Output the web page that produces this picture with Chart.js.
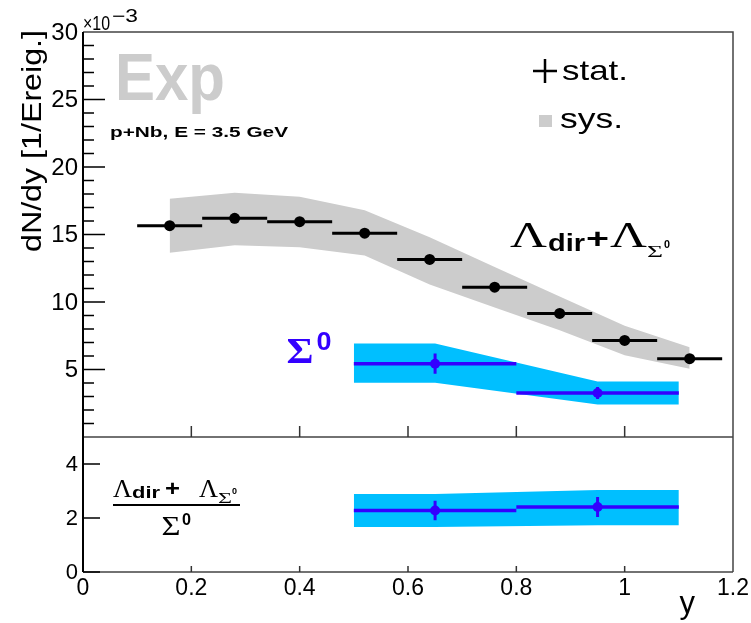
<!DOCTYPE html>
<html>
<head>
<meta charset="utf-8">
<script src="https://cdn.jsdelivr.net/npm/chart.js@4.4.1/dist/chart.umd.min.js"></script>
<style>
  html, body { margin: 0; padding: 0; background: #fff; }
  #wrap { position: relative; width: 751px; height: 623px; }
</style>
</head>
<body>
<div id="wrap"><canvas id="yield" width="751" height="623"></canvas></div>
<script>
// rapidity bins of the Lambda spectrum
const lambdaBinLow  = [0.10, 0.22, 0.34, 0.46, 0.58, 0.70, 0.82, 0.94, 1.06];
const lambdaBinHigh = [0.22, 0.34, 0.46, 0.58, 0.70, 0.82, 0.94, 1.06, 1.18];
const lambdaY       = [0.16, 0.28, 0.40, 0.52, 0.64, 0.76, 0.88, 1.00, 1.12];
// dN/dy in units of 1e-3
const lambdaVals    = [15.65, 16.2, 15.95, 15.1, 13.15, 11.1, 9.15, 7.15, 5.8];
const lambdaSysUp   = [17.65, 18.1, 17.8, 16.8, 14.8, 12.6, 10.4, 8.25, 6.65];
const lambdaSysLow  = [13.65, 14.2, 14.05, 13.45, 11.3, 9.6, 7.9, 6.05, 5.05];

// Sigma0 spectrum
const sigmaBinLow  = [0.5, 0.8];
const sigmaBinHigh = [0.8, 1.1];
const sigmaY       = [0.65, 0.95];
const sigmaVals    = [5.43, 3.26];
const sigmaStat    = [0.75, 0.45];
const sigmaSysX    = [0.5, 0.65, 0.95, 1.1];
const sigmaSysUp   = [6.92, 6.92, 4.12, 4.12];
const sigmaSysLow  = [4.02, 4.02, 2.4, 2.4];

// ratio (Lambda_dir + Lambda_Sigma0) / Sigma0
const ratioVals   = [2.28, 2.41];
const ratioStat   = [0.36, 0.37];
const ratioSysUp  = [2.89, 2.89, 3.04, 3.04];
const ratioSysLow = [1.67, 1.67, 1.73, 1.73];

// axes
const xTicks       = [0, 0.2, 0.4, 0.6, 0.8, 1, 1.2];
const xTickLabels  = ["0", "0.2", "0.4", "0.6", "0.8", "1", "1.2"];
const yTopTicks    = [5, 10, 15, 20, 25, 30];
const yBottomTicks = [0, 2, 4];

const SANS = '"Liberation Sans", Arial, sans-serif';
const SERIF = '"Liberation Serif", "Times New Roman", serif';
const GREY = "#cccccc";
const SKY = "#00bfff";
const VIOLET = "#3300ff";

const pts = (xs, ys) => xs.map((x, i) => ({ x: x, y: ys[i] }));
// horizontal bin-width bars, broken by null points
const hBars = (lo, hi, v) => lo.flatMap((l, i) => [{ x: l, y: v[i] }, { x: hi[i], y: v[i] }, { x: hi[i], y: null }]);
// vertical stat. error bars
const vBars = (xs, v, e) => xs.flatMap((x, i) => [{ x: x, y: v[i] - e[i] }, { x: x, y: v[i] + e[i] }, { x: x, y: null }]);

const band = (data, axis, fill, color) => ({
    data: data, yAxisID: axis, borderWidth: 0, pointRadius: 0, tension: 0,
    fill: fill, backgroundColor: color, order: 10
});
const bars = (data, axis, color, width) => ({
    data: data, yAxisID: axis, borderColor: color, borderWidth: width, pointRadius: 0,
    spanGaps: false, fill: false, borderCapStyle: "butt", order: 5
});
const marks = (data, axis, color, r) => ({
    data: data, yAxisID: axis, showLine: false, pointRadius: r, pointBorderWidth: 0,
    pointBackgroundColor: color, fill: false, order: 1
});

// text stretched to a given width
function fitText(ctx, t, x, y, font, w, align) {
    ctx.save();
    ctx.font = font;
    const nat = ctx.measureText(t).width;
    ctx.textAlign = "left";
    const x0 = align === "right" ? x - w : align === "center" ? x - w / 2 : x;
    ctx.translate(x0, y);
    ctx.scale(w / nat, 1);
    ctx.fillText(t, 0, 0);
    ctx.restore();
}

// pieces of a formula: [text, font, x0, x1, baseline]
function formula(ctx, list, color) {
    ctx.fillStyle = color || "#000";
    list.forEach(([t, font, x0, x1, base]) => fitText(ctx, t, x0, base, font, x1 - x0, "left"));
}

const rootFrame = {
    id: "rootFrame",
    afterDraw(chart) {
        const ctx = chart.ctx;
        const { x, y, yr } = chart.scales;
        const L = chart.chartArea.left, R = chart.chartArea.right;
        const T = y.top, M = y.bottom, B = yr.bottom;
        ctx.save();

        // frame
        ctx.strokeStyle = "#444";
        ctx.lineWidth = 1.5;
        ctx.beginPath();
        ctx.moveTo(L, T); ctx.lineTo(R, T); ctx.lineTo(R, B);
        ctx.moveTo(L, M); ctx.lineTo(R, M);
        ctx.moveTo(L, B); ctx.lineTo(R, B);
        ctx.stroke();
        ctx.strokeStyle = "#000";
        ctx.lineWidth = 2;
        ctx.beginPath();
        ctx.moveTo(L, T); ctx.lineTo(L, B);
        ctx.stroke();

        // y ticks, upper pad
        ctx.lineWidth = 1.5;
        ctx.beginPath();
        for (let v = 1; v < 30; v++) {
            const py = y.getPixelForValue(v);
            ctx.moveTo(L, py);
            ctx.lineTo(L + (v % 5 === 0 ? 22 : 11), py);
        }
        ctx.stroke();
        // y ticks, lower pad
        ctx.beginPath();
        yBottomTicks.forEach(v => {
            const py = yr.getPixelForValue(v);
            ctx.moveTo(L, py); ctx.lineTo(L + 17, py);
        });
        ctx.stroke();
        // x ticks on both pads
        ctx.strokeStyle = "#333";
        ctx.beginPath();
        xTicks.slice(1, -1).forEach(v => {
            const px = x.getPixelForValue(v);
            ctx.moveTo(px, M); ctx.lineTo(px, M - 11);
            ctx.moveTo(px, B); ctx.lineTo(px, B - 6);
        });
        ctx.stroke();

        // tick labels
        ctx.fillStyle = "#000";
        ctx.font = "24px " + SANS;
        ctx.textAlign = "right";
        ctx.textBaseline = "middle";
        yTopTicks.forEach(v => ctx.fillText(String(v), L - 5, y.getPixelForValue(v) + 1));
        ctx.font = "22px " + SANS;
        yBottomTicks.forEach(v => ctx.fillText(String(v), L - 5, yr.getPixelForValue(v) + 1));
        ctx.font = "23px " + SANS;
        ctx.textAlign = "center";
        ctx.textBaseline = "alphabetic";
        xTicks.forEach((v, i) => ctx.fillText(xTickLabels[i], x.getPixelForValue(v), 595));

        // exponent
        ctx.textAlign = "left";
        formula(ctx, [
            ["\u00d710", "20px " + SANS, 83, 110, 30],
            ["\u22123", "18px " + SANS, 112, 138, 22]
        ]);

        // axis titles
        ctx.save();
        ctx.translate(41, 141);
        ctx.rotate(-Math.PI / 2);
        fitText(ctx, "dN/dy [1/Ereig.]", 0, 0, "27px " + SANS, 222, "center");
        ctx.restore();
        ctx.font = "31px " + SANS;
        ctx.textAlign = "right";
        ctx.fillText("y", 695, 613);
        ctx.textAlign = "left";

        // labels in the pad
        ctx.fillStyle = GREY;
        fitText(ctx, "Exp", 115, 100, "bold 66px " + SANS, 110, "left");
        ctx.fillStyle = "#000";
        fitText(ctx, "p+Nb, E = 3.5 GeV", 110, 137, "bold 15px " + SANS, 178, "left");

        // legend
        ctx.strokeStyle = "#000";
        ctx.lineWidth = 2.5;
        ctx.beginPath();
        ctx.moveTo(533, 71); ctx.lineTo(557, 71);
        ctx.moveTo(545, 59); ctx.lineTo(545, 83);
        ctx.stroke();
        fitText(ctx, "stat.", 562, 80, "28px " + SANS, 66, "left");
        ctx.fillStyle = GREY;
        ctx.fillRect(539, 115, 13, 12);
        ctx.fillStyle = "#000";
        fitText(ctx, "sys.", 560, 128, "28px " + SANS, 63, "left");

        // Lambda_dir + Lambda_Sigma0
        formula(ctx, [
            ["\u039b", "36px " + SERIF, 510, 547, 247],
            ["dir", "bold 24px " + SANS, 548, 585, 251],
            ["+", "bold 28px " + SANS, 586, 609, 248],
            ["\u039b", "36px " + SERIF, 610, 647, 247],
            ["\u03a3", "16px " + SERIF, 647, 663, 257],
            ["0", "bold 10px " + SANS, 664, 670, 247.5]
        ]);

        // Sigma0 label
        formula(ctx, [
            ["\u03a3", "bold 36px " + SERIF, 286.5, 313.5, 363],
            ["0", "bold 25px " + SANS, 316.5, 331.5, 350]
        ], VIOLET);

        // ratio label
        formula(ctx, [
            ["\u039b", "25px " + SERIF, 113, 132, 497],
            ["dir", "bold 17px " + SANS, 132, 160, 498],
            ["+", "bold 22px " + SANS, 165, 180, 496],
            ["\u039b", "25px " + SERIF, 199, 218, 497],
            ["\u03a3", "14px " + SERIF, 218, 232, 503],
            ["0", "bold 9px " + SANS, 232, 237, 494],
            ["\u03a3", "27px " + SERIF, 161.5, 180.5, 535],
            ["0", "bold 16px " + SANS, 182, 191, 525]
        ]);
        ctx.fillRect(113, 504, 127, 2);
        ctx.restore();
    }
};

new Chart(document.getElementById("yield"), {
    type: "line",
    data: {
        datasets: [
            band(pts(lambdaY, lambdaSysUp), "y", false, GREY),
            band(pts(lambdaY, lambdaSysLow), "y", "-1", GREY),
            band(pts(sigmaSysX, sigmaSysUp), "y", false, SKY),
            band(pts(sigmaSysX, sigmaSysLow), "y", "-1", SKY),
            band(pts(sigmaSysX, ratioSysUp), "yr", false, SKY),
            band(pts(sigmaSysX, ratioSysLow), "yr", "-1", SKY),
            bars(hBars(lambdaBinLow, lambdaBinHigh, lambdaVals), "y", "#000", 3),
            bars(hBars(sigmaBinLow, sigmaBinHigh, sigmaVals), "y", VIOLET, 3.5),
            bars(vBars(sigmaY, sigmaVals, sigmaStat), "y", VIOLET, 3),
            bars(hBars(sigmaBinLow, sigmaBinHigh, ratioVals), "yr", VIOLET, 3.5),
            bars(vBars(sigmaY, ratioVals, ratioStat), "yr", VIOLET, 3),
            marks(pts(lambdaY, lambdaVals), "y", "#000", 5.5),
            marks(pts(sigmaY, sigmaVals), "y", VIOLET, 5),
            marks(pts(sigmaY, ratioVals), "yr", VIOLET, 5)
        ]
    },
    options: {
        responsive: false,
        animation: false,
        events: [],
        layout: { padding: { left: 83, top: 32, right: 18, bottom: 51 } },
        plugins: { legend: { display: false }, tooltip: { enabled: false } },
        scales: {
            x: { type: "linear", min: 0, max: 1.2, display: false },
            // the later stacked axis is placed on top
            yr: { type: "linear", axis: "y", position: "left", min: 0, max: 5, display: false, stack: "pads", stackWeight: 1 },
            y: { type: "linear", axis: "y", position: "left", min: 0, max: 30, display: false, stack: "pads", stackWeight: 3 }
        }
    },
    plugins: [rootFrame]
});
</script>
</body>
</html>
